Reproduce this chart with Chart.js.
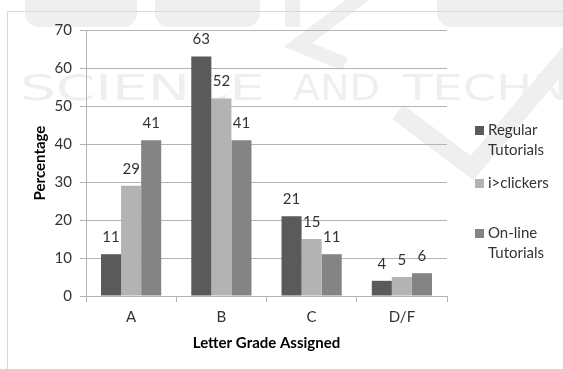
<!DOCTYPE html>
<html>
<head>
<meta charset="utf-8">
<script src="https://cdn.jsdelivr.net/npm/chart.js@4.4.0/dist/chart.umd.min.js"></script>
<style>
  body { margin: 0; background: #fff; }
  canvas { display: block; }
</style>
</head>
<body>
<canvas id="gradeChart" width="563" height="369"></canvas>
<script>
// Grade distribution per tutorial format
const grades = ['A', 'B', 'C', 'D/F'];
const seriesNames = ['Regular Tutorials', 'i>clickers', 'On-line Tutorials'];
const regular = [11, 63, 21, 4];
const clickers = [29, 52, 15, 5];
const online = [41, 41, 11, 6];
const yTicks = [0, 10, 20, 30, 40, 50, 60, 70];

const colors = ['#5a5a5a', '#b3b3b3', '#848484'];
const font = 'Lato, "Open Sans", sans-serif';
const textColor = '#333333';
const gridColor = '#b4b4b4';
const markColor = '#efefef';

// Background watermark, frame, value labels, legend and axis titles
const decor = {
    id: 'decor',
    beforeDraw(chart) {
        const ctx = chart.ctx;
        ctx.save();
        ctx.fillStyle = '#ffffff';
        ctx.fillRect(0, 0, chart.width, chart.height);

        // faint watermark: letter feet along the top edge
        ctx.fillStyle = markColor;
        [[25, 112], [155, 105], [285, 15], [437, 140]].forEach(([x, w]) => {
            ctx.beginPath();
            ctx.roundRect(x, -20, w, 47, w > 20 ? 14 : 2);
            ctx.fill();
        });

        // chevron and tick strokes
        ctx.strokeStyle = markColor;
        ctx.lineWidth = 14;
        ctx.beginPath();
        ctx.moveTo(364, -5);
        ctx.lineTo(298, 45);
        ctx.lineTo(345, 64);
        ctx.stroke();
        ctx.lineWidth = 18;
        ctx.beginPath();
        ctx.moveTo(398, 112);
        ctx.lineTo(472, 168);
        ctx.lineTo(570, 52);
        ctx.stroke();

        // watermark words, each stretched to its own span
        ctx.font = '35px "DejaVu Sans"';
        ctx.textBaseline = 'alphabetic';
        [['SCIENCE', 20, 245], ['AND', 293, 87], ['TECHNOLOGY', 403, 330]].forEach(([word, x, span]) => {
            const w = ctx.measureText(word).width;
            ctx.save();
            ctx.translate(x, 100);
            ctx.scale(span / w, 1);
            ctx.fillText(word, 0, 0);
            ctx.restore();
        });
        ctx.restore();

        // frame
        ctx.save();
        ctx.strokeStyle = '#d9d9d9';
        ctx.lineWidth = 1;
        ctx.beginPath();
        ctx.moveTo(7.5, chart.height);
        ctx.lineTo(7.5, 11.5);
        ctx.lineTo(chart.width, 11.5);
        ctx.stroke();
        ctx.restore();
    },
    afterDatasetsDraw(chart) {
        const ctx = chart.ctx;
        ctx.save();
        ctx.font = '15px ' + font;
        ctx.fillStyle = textColor;
        ctx.textAlign = 'center';
        ctx.textBaseline = 'middle';
        chart.data.datasets.forEach((ds, i) => {
            chart.getDatasetMeta(i).data.forEach((bar, j) => {
                ctx.fillText(ds.data[j], bar.x, bar.y - 17);
            });
        });
        ctx.restore();
    },
    afterDraw(chart) {
        const ctx = chart.ctx;
        const area = chart.chartArea;
        ctx.save();
        ctx.fillStyle = textColor;
        ctx.textBaseline = 'middle';

        // legend
        const itemY = [130, 183, 233];
        ctx.font = '15px ' + font;
        ctx.textAlign = 'left';
        chart.data.datasets.forEach((ds, i) => {
            const lines = ds.label === 'i>clickers' ? [ds.label] : ds.label.split(' ');
            ctx.fillStyle = ds.backgroundColor;
            ctx.fillRect(475, itemY[i] - 4, 9, 9);
            ctx.fillStyle = textColor;
            lines.forEach((line, k) => ctx.fillText(line, 488, itemY[i] + k * 20.5));
        });

        // axis titles
        ctx.font = 'bold 15px ' + font;
        ctx.fillStyle = '#000';
        ctx.textAlign = 'center';
        ctx.fillText('Letter Grade Assigned', (area.left + area.right) / 2, 343);
        ctx.translate(40, (area.top + area.bottom) / 2);
        ctx.rotate(-Math.PI / 2);
        ctx.fillText('Percentage', 0, 0);
        ctx.restore();
    }
};

const ctx = document.querySelector('#gradeChart').getContext('2d');
new Chart(ctx, {
    type: 'bar',
    data: {
        labels: grades,
        datasets: [regular, clickers, online].map((values, i) => ({
            label: seriesNames[i],
            data: values,
            backgroundColor: colors[i],
            borderWidth: 0,
            categoryPercentage: 0.667,
            barPercentage: 1
        }))
    },
    options: {
        responsive: false,
        devicePixelRatio: 1,
        animation: false,
        layout: { padding: { top: 30, right: 116, left: 0, bottom: 0 } },
        plugins: {
            legend: { display: false },
            tooltip: { enabled: false }
        },
        scales: {
            x: {
                afterFit(scale) { scale.height = 73; },
                grid: {
                    drawOnChartArea: false,
                    drawTicks: true,
                    tickLength: 6,
                    color: gridColor
                },
                border: { color: gridColor },
                ticks: {
                    color: textColor,
                    font: { family: font, size: 15 },
                    padding: 6
                }
            },
            y: {
                min: 0,
                max: 70,
                afterFit(scale) { scale.width = 86; },
                afterBuildTicks(scale) { scale.ticks = yTicks.map(v => ({ value: v })); },
                grid: { color: gridColor, tickLength: 6 },
                border: { color: gridColor },
                ticks: {
                    color: textColor,
                    font: { family: font, size: 15 },
                    padding: 8
                }
            }
        }
    },
    plugins: [decor]
});
</script>
</body>
</html>
